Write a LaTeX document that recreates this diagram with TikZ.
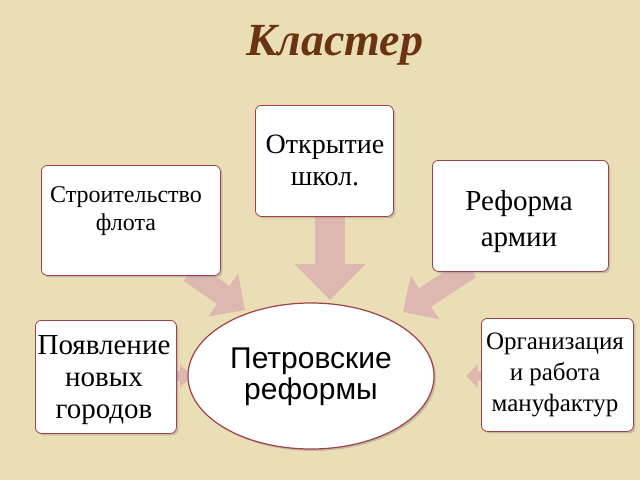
\documentclass[tikz,border=0pt]{standalone}
\usepackage{fontspec}
\setmainfont{Liberation Serif}
\newfontfamily\sansf{Liberation Sans}
\usetikzlibrary{arrows.meta,shadows,shapes.geometric}
\definecolor{bg}{HTML}{E9DEB5}
\definecolor{brd}{HTML}{A0404A}
\definecolor{arr}{HTML}{DDB7B0}
\definecolor{ttl}{HTML}{6A3410}
\tikzset{
 box/.style={draw=brd,line width=0.8pt,fill=white,rounded corners=6pt,align=center,inner sep=0pt,drop shadow={shadow xshift=2pt,shadow yshift=-2pt,opacity=0.35}},
 fat/.style={arr,line width=#1,-{Triangle[length=#1*1.2,width=#1*2.3]}},
}
\begin{document}
\begin{tikzpicture}[x=1pt,y=-1pt]
\fill[bg] (0,0) rectangle (640,480);
\useasboundingbox (0,0) rectangle (640,480);
\node (t) at (335,45) {\fontsize{46}{50}\selectfont\bfseries\itshape\color{ttl}Кластер};
% arrows
\coordinate (a1) at (330,216); \coordinate (a1e) at (330,300);
\draw[fat=30pt] (a1) -- (a1e);
\coordinate (a2) at (190,272); \coordinate (a2e) at (245,310);
\draw[fat=22pt] (a2) -- (a2e);
\coordinate (a3) at (470,268); \coordinate (a3e) at (403,312);
\draw[fat=22pt] (a3) -- (a3e);
\coordinate (a4) at (176,376); \coordinate (a4e) at (192,376);
\draw[fat=10pt] (a4) -- (a4e);
\coordinate (a5) at (481,376); \coordinate (a5e) at (466,376);
\draw[fat=10pt] (a5) -- (a5e);
% boxes
\node[box,minimum width=138pt,minimum height=111pt,anchor=north west] (b1) at (255,105) {};
\node[align=center,font=\fontsize{28}{32}\selectfont] (t1) at (325,160) {Открытие\\ школ.};
\node[box,minimum width=179pt,minimum height=110pt,anchor=north west] (b2) at (41,165) {};
\node[align=center,font=\fontsize{24}{28}\selectfont] (t2) at (126,211) {Строительство\\ флота};
\node[box,minimum width=176pt,minimum height=111pt,anchor=north west] (b3) at (432,160) {};
\node[align=center,font=\fontsize{29}{36}\selectfont] (t3) at (519,222) {Реформа\\ армии};
\node[box,minimum width=141pt,minimum height=113pt,anchor=north west] (b4) at (35,320) {};
\node[align=center,font=\fontsize{29}{32}\selectfont] (t4) at (104,380) {Появление\\ новых\\ городов};
\node[box,minimum width=152pt,minimum height=113pt,anchor=north west] (b5) at (481,318) {};
\node[align=center,font=\fontsize{25}{31}\selectfont] (t5) at (555,375) {Организация\\ и работа\\ мануфактур};
\node[box,ellipse,minimum width=246pt,minimum height=146pt,draw=brd,line width=1.2pt] (e) at (311,376) {};
\node[align=center,font=\sansf\fontsize{30}{31}\selectfont] (te) at (311,377) {Петровские\\ реформы};
\end{tikzpicture}
\end{document}
